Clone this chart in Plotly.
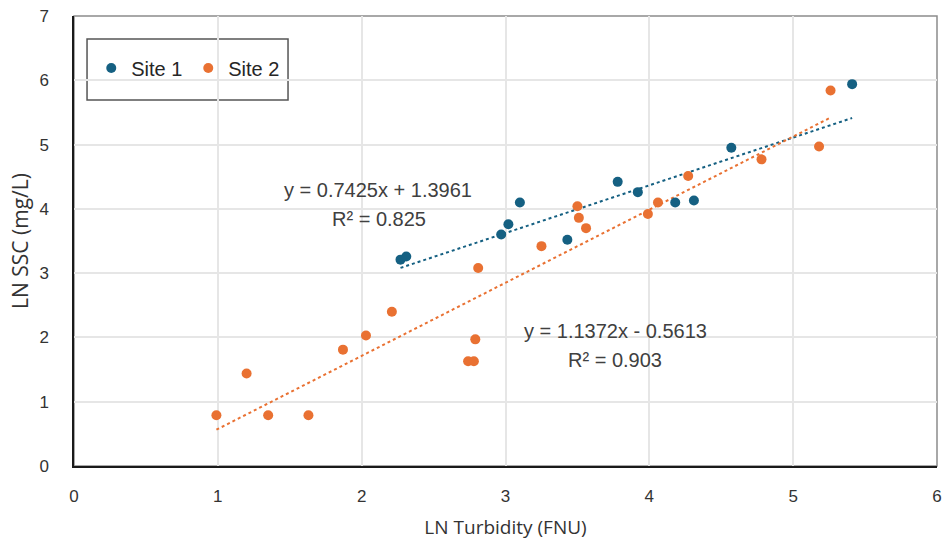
import plotly.graph_objects as go

# Site 1 data (LN Turbidity, LN SSC)
site1_x = [2.27, 2.31, 2.97, 3.02, 3.10, 3.43, 3.78, 3.92, 4.18, 4.31, 4.57, 5.41]
site1_y = [3.21, 3.26, 3.60, 3.76, 4.10, 3.52, 4.42, 4.26, 4.10, 4.13, 4.95, 5.94]

# Site 2 data
site2_x = [0.99, 1.20, 1.35, 1.63, 1.87, 2.03, 2.21, 2.74, 2.78, 2.79, 2.81, 3.25,
           3.50, 3.51, 3.56, 3.99, 4.06, 4.27, 4.78, 5.18, 5.26]
site2_y = [0.79, 1.44, 0.79, 0.79, 1.81, 2.03, 2.40, 1.63, 1.63, 1.97, 3.08, 3.42,
           4.04, 3.86, 3.70, 3.92, 4.10, 4.51, 4.77, 4.97, 5.84]

# Linear trend coefficients (as printed on the chart)
site1_slope, site1_intercept, site1_r2 = 0.7425, 1.3961, 0.825
site2_slope, site2_intercept, site2_r2 = 1.1372, -0.5613, 0.903

x_ticks = [0, 1, 2, 3, 4, 5, 6]
y_ticks = [0, 1, 2, 3, 4, 5, 6, 7]

BLUE = "#156082"
ORANGE = "#E97132"
FONT = "Liberation Sans"

def trend(xs, m, b):
    x0, x1 = min(xs), max(xs)
    return [x0, x1], [m * x0 + b, m * x1 + b]

fig = go.Figure()

t1x, t1y = trend(site1_x, site1_slope, site1_intercept)
t2x, t2y = trend(site2_x, site2_slope, site2_intercept)

fig.add_trace(go.Scatter(x=t1x, y=t1y, mode="lines", showlegend=False,
                         line=dict(color=BLUE, width=2, dash="dot"), hoverinfo="skip"))
fig.add_trace(go.Scatter(x=t2x, y=t2y, mode="lines", showlegend=False,
                         line=dict(color=ORANGE, width=2, dash="dot"), hoverinfo="skip"))

fig.add_trace(go.Scatter(x=site1_x, y=site1_y, mode="markers", name="Site 1",
                         marker=dict(color=BLUE, size=10)))
fig.add_trace(go.Scatter(x=site2_x, y=site2_y, mode="markers", name="Site 2",
                         marker=dict(color=ORANGE, size=10)))

ann_font = dict(family=FONT, size=20, color="#404040")
fig.add_annotation(x=2.114, y=4.29, xref="x", yref="y", showarrow=False,
                   text=f"y = {site1_slope}x + {site1_intercept}", font=ann_font)
fig.add_annotation(x=2.12, y=3.84, xref="x", yref="y", showarrow=False,
                   text=f"R² = {site1_r2}", font=ann_font)
fig.add_annotation(x=3.762, y=2.10, xref="x", yref="y", showarrow=False,
                   text=f"y = {site2_slope}x - {abs(site2_intercept)}", font=ann_font)
fig.add_annotation(x=3.762, y=1.65, xref="x", yref="y", showarrow=False,
                   text=f"R² = {site2_r2}", font=ann_font)

# outer frame (gray) and legend box
fig.add_shape(type="rect", xref="paper", yref="paper", x0=0, x1=1, y0=0, y1=1,
              line=dict(color="#8c8c8c", width=1.5), layer="below")
fig.add_shape(type="rect", xref="paper", yref="paper", x0=0.0151, x1=0.2480,
              y0=0.8133, y1=0.9489, line=dict(color="#555555", width=1.5),
              fillcolor="white", layer="below")

fig.update_layout(
    width=944, height=544,
    margin=dict(l=74, r=7, t=16, b=78, autoexpand=False),
    paper_bgcolor="white", plot_bgcolor="white",
    font=dict(family=FONT, size=16, color="#333333"),
    legend=dict(orientation="h", x=0.020, y=0.8844, xanchor="left", yanchor="middle",
                bgcolor="rgba(0,0,0,0)", borderwidth=0,
                font=dict(family=FONT, size=20, color="#262626"),
                entrywidth=52, entrywidthmode="pixels"),
    xaxis=dict(range=[0, 6], tickvals=x_ticks, showgrid=True, gridcolor="#e6e6e6",
               gridwidth=1.5, zeroline=False, showline=True, linecolor="#1a1a1a",
               linewidth=1.5, ticks="", tickfont=dict(size=17, color="#333333"),
               ticklabelstandoff=14, automargin=False, ticklabeloverflow="allow",
               title=dict(text="LN Turbidity (FNU)", font=dict(family="Open Sans", size=19, color="#333333"),
                          standoff=16)),
    yaxis=dict(range=[0, 7], tickvals=y_ticks, showgrid=True, gridcolor="#e6e6e6",
               gridwidth=1.5, zeroline=False, showline=True, linecolor="#1a1a1a",
               linewidth=1.5, ticks="", tickfont=dict(size=17, color="#333333"),
               ticklabelstandoff=20, automargin=False, ticklabeloverflow="allow",
               title=dict(text="LN SSC (mg/L)", font=dict(family="Open Sans", size=21, color="#333333"),
                          standoff=5)),
)

fig.write_html("out.html", config={"displayModeBar": False},
               post_script="document.body.style.margin='0px';document.body.style.overflow='hidden';")
